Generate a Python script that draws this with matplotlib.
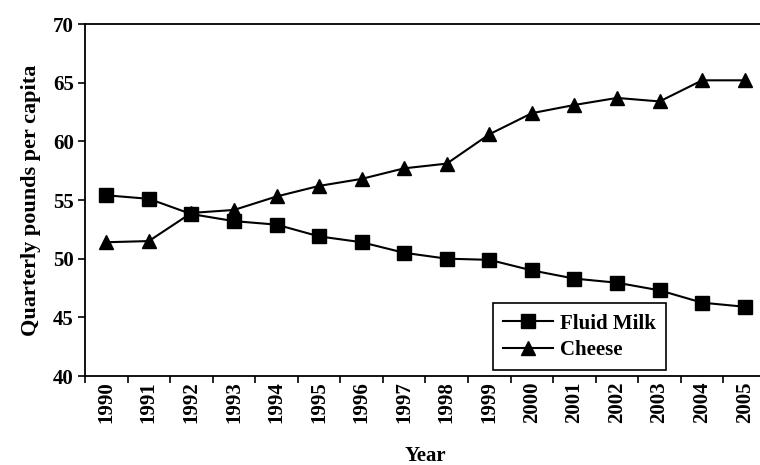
import numpy as np
import matplotlib.pyplot as plt

plt.rcParams['font.family'] = 'Liberation Serif'
plt.rcParams['font.weight'] = 'bold'

years = [str(y) for y in range(1990, 2006)]
fluid_milk = [55.4, 55.1, 53.8, 53.2, 52.9, 51.9, 51.4, 50.5, 50.0, 49.9,
              49.0, 48.3, 47.95, 47.3, 46.25, 45.9]
cheese = [51.4, 51.5, 53.9, 54.15, 55.3, 56.2, 56.8, 57.7, 58.1, 60.6,
          62.4, 63.1, 63.7, 63.4, 65.2, 65.2]

fig = plt.figure(figsize=(7.6, 4.65), dpi=100)
ax = fig.add_axes([85/760, 89/465, 681/760, 352/465])

x = np.arange(len(years))
ax.plot(x, fluid_milk, color='black', lw=1.5, marker='s', ms=9.5, label='Fluid Milk')
ax.plot(x, cheese, color='black', lw=1.5, marker='^', ms=10.5, label='Cheese')

ax.set_xlim(-0.5, len(years) - 0.5)
ax.set_ylim(40, 70)
ax.set_yticks(range(40, 71, 5))
ax.set_xticks(x)
ax.set_xticklabels(years, rotation=90)
ax.set_xticks(np.arange(len(years) + 1) - 0.5, minor=True)
ax.tick_params(axis='x', which='major', length=0, pad=4, labelsize=15)
ax.tick_params(axis='x', which='minor', length=5, width=1.2, direction='out')
ax.tick_params(axis='y', length=5, width=1.2, labelsize=15, pad=3)

for s in ['left', 'bottom', 'top']:
    ax.spines[s].set_linewidth(1.3)
ax.spines['right'].set_visible(False)

ax.set_xlabel('Year', fontsize=15, fontweight='bold', labelpad=16)
ax.set_ylabel('Quarterly pounds per capita', fontsize=16, fontweight='bold', labelpad=9)

leg = ax.legend(loc='upper left', bbox_to_anchor=(0.599, 0.207), borderaxespad=0,
                fontsize=15, frameon=True, fancybox=False, edgecolor='black',
                framealpha=1, handlelength=2.4, borderpad=0.5, labelspacing=0.3,
                handletextpad=0.3)
leg.get_frame().set_linewidth(1.2)

fig.savefig('out.png', dpi=100)
